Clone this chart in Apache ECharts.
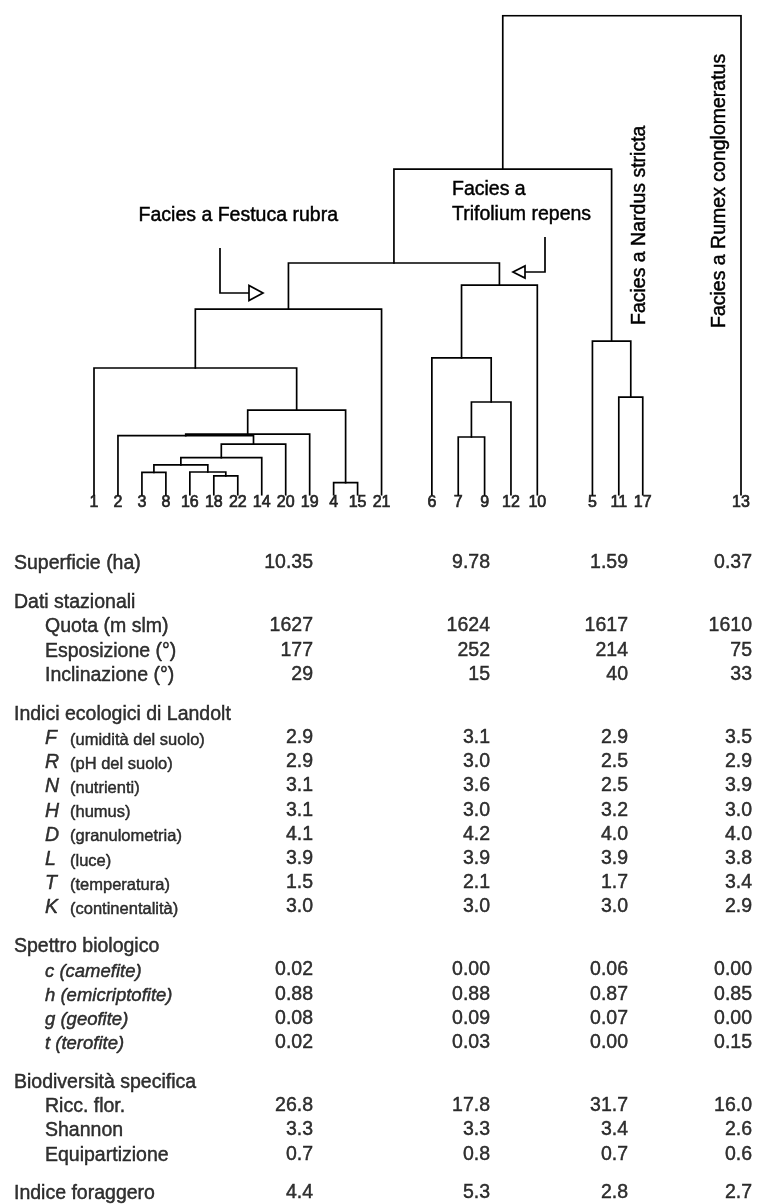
<!DOCTYPE html>
<html>
<head>
<meta charset="utf-8">
<script src="https://cdn.jsdelivr.net/npm/echarts@6/dist/echarts.min.js"></script>
<style>
html,body{margin:0;padding:0;background:#fff;}
#chart{width:759px;height:1204px;}
</style>
</head>
<body>
<div id="chart"></div>
<script>
// ---------------- DATA ----------------
// Dendrogram: leaf order, leaf slot positions along the axis, and fusion steps [a, b, height]
const leaves   = ['1','2','3','8','16','18','22','14','20','19','4','15','21','6','7','9','12','10','5','11','17','13'];
const leafSlot = [0,1,2,3,4,5,6,7,8,9,10,11,12,14.1,15.2,16.3,17.4,18.5,20.8,21.9,22.9,27];
const merges = [
  ['18','22',4.0],   // m0
  ['16','m0',4.8],   // m1
  ['3','8',4.7],     // m2
  ['m2','m1',6.3],   // m3
  ['m3','14',7.8],   // m4
  ['m4','20',10.6],  // m5
  ['2','m5',12.4],   // m6
  ['m6','19',12.7],  // m7
  ['4','15',2.6],    // m8
  ['m7','m8',17.7],  // m9
  ['1','m9',26.5],   // m10
  ['m10','21',38.8], // m11  Festuca rubra
  ['7','9',12.1],    // m12
  ['m12','12',19.4], // m13
  ['6','m13',28.6],  // m14
  ['m14','10',43.8], // m15  Trifolium repens
  ['m11','m15',48.4],// m16
  ['11','17',20.4],  // m17
  ['5','m17',32.1],  // m18  Nardus stricta
  ['m16','m18',68.0],// m19
  ['m19','13',100]   // m20
];

// Table
const superficie   = [10.35, 9.78, 1.59, 0.37];
const stazLabels   = ['Quota (m slm)', 'Esposizione (°)', 'Inclinazione (°)'];
const quota        = [1627, 1624, 1617, 1610];
const esposizione  = [177, 252, 214, 75];
const inclinazione = [29, 15, 40, 33];
const landoltCodes = ['F','R','N','H','D','L','T','K'];
const landoltNames = ['(umidità del suolo)','(pH del suolo)','(nutrienti)','(humus)','(granulometria)','(luce)','(temperatura)','(continentalità)'];
const landoltF = [2.9, 3.1, 2.9, 3.5];
const landoltR = [2.9, 3.0, 2.5, 2.9];
const landoltN = [3.1, 3.6, 2.5, 3.9];
const landoltH = [3.1, 3.0, 3.2, 3.0];
const landoltD = [4.1, 4.2, 4.0, 4.0];
const landoltL = [3.9, 3.9, 3.9, 3.8];
const landoltT = [1.5, 2.1, 1.7, 3.4];
const landoltK = [3.0, 3.0, 3.0, 2.9];
const spettroLabels = ['c (camefite)','h (emicriptofite)','g (geofite)','t (terofite)'];
const spettroC = [0.02, 0.00, 0.06, 0.00];
const spettroH = [0.88, 0.88, 0.87, 0.85];
const spettroG = [0.08, 0.09, 0.07, 0.00];
const spettroT = [0.02, 0.03, 0.00, 0.15];
const biodivLabels = ['Ricc. flor.','Shannon','Equipartizione'];
const riccFlor   = [26.8, 17.8, 31.7, 16.0];
const shannon    = [3.3, 3.3, 3.4, 2.6];
const equipart   = [0.7, 0.8, 0.7, 0.6];
const foraggero  = [4.4, 5.3, 2.8, 2.7];

// ---------------- LAYOUT ----------------
const FONT = "'Liberation Sans', Arial, Helvetica, sans-serif";
const FS = 19.5;
const W = 759, H = 1204;
const dendro = {left: 94, right: W - 741, top: 15.7, bottom: H - 495};
const table  = {top: 563, bottom: H - 1193};
const TABLE_ROWS_MAX = 26;
const HEAD_X = 14, ITEM_X = 45;
const COL_X = [313, 490, 628, 752];
const GROUP_GAP = 0.6;
const INK = {textBorderColor: '#000', textBorderWidth: 0.45};

// dendrogram links
const nodes = {};
leaves.forEach((l, i) => { nodes[l] = {x: leafSlot[i], h: 0}; });
const linkData = [];
merges.forEach((m, i) => {
  const a = nodes[m[0]], b = nodes[m[1]], h = m[2];
  linkData.push({coords: [[a.x, a.h], [a.x, h], [b.x, h], [b.x, b.h]]});
  nodes['m' + i] = {x: (a.x + b.x) / 2, h: h};
});

// table rows
const rows = [];
let pos = 0;
function addRow(kind, label, values, dec, gap) {
  if (gap && rows.length) pos += GROUP_GAP;
  rows.push({kind, label, values, dec, pos});
  pos += 1;
}
addRow('head', 'Superficie (ha)', superficie, 2, true);
addRow('head', 'Dati stazionali', null, 0, true);
[quota, esposizione, inclinazione].forEach((v, i) => addRow('item', stazLabels[i], v, 0, false));
addRow('head', 'Indici ecologici di Landolt', null, 1, true);
[landoltF, landoltR, landoltN, landoltH, landoltD, landoltL, landoltT, landoltK].forEach((v, i) =>
  addRow('code', [landoltCodes[i], landoltNames[i]], v, 1, false));
addRow('head', 'Spettro biologico', null, 2, true);
[spettroC, spettroH, spettroG, spettroT].forEach((v, i) => addRow('ital', spettroLabels[i], v, 2, false));
addRow('head', 'Biodiversità specifica', null, 1, true);
[riccFlor, shannon, equipart].forEach((v, i) => addRow('item', biodivLabels[i], v, 1, false));
addRow('head', 'Indice foraggero', foraggero, 1, true);

const labelData = rows.map(r => {
  let fmt;
  if (r.kind === 'code') fmt = '{it|' + r.label[0] + '}{sm|' + r.label[1] + '}';
  else if (r.kind === 'ital') fmt = '{ital|' + r.label + '}';
  else fmt = '{n|' + r.label + '}';
  return {value: [r.kind === 'head' ? HEAD_X : ITEM_X, r.pos], label: {formatter: fmt}};
});
const valueData = [];
rows.forEach(r => {
  if (!r.values) return;
  r.values.forEach((v, c) => valueData.push({value: [COL_X[c], r.pos], txt: v.toFixed(r.dec)}));
});

const richStyles = {
  n:    Object.assign({fontFamily: FONT, fontSize: FS, color: '#000', verticalAlign: 'bottom', lineHeight: 22}, INK),
  it:   Object.assign({fontFamily: FONT, fontSize: FS, fontStyle: 'italic', color: '#000', width: 25, verticalAlign: 'bottom', lineHeight: 22}, INK),
  sm:   Object.assign({fontFamily: FONT, fontSize: 16.5, color: '#000', verticalAlign: 'bottom', lineHeight: 22}, INK),
  ital: Object.assign({fontFamily: FONT, fontSize: 18.5, fontStyle: 'italic', color: '#000', verticalAlign: 'bottom', lineHeight: 22}, INK)
};

const chart = echarts.init(document.getElementById('chart'), null, {renderer: 'canvas', width: W, height: H});

function gtext(x, y, text, align, rot) {
  const el = {type: 'text', x: x, y: y,
    style: {text: text, font: FS + 'px ' + FONT, fill: '#000', stroke: '#000', lineWidth: 0.45,
            align: align, textAlign: align, verticalAlign: 'middle', textVerticalAlign: 'middle'}};
  if (rot) el.rotation = rot;
  return el;
}

const option = {
  backgroundColor: '#fff',
  animation: false,
  grid: [
    {left: dendro.left, right: dendro.right, top: dendro.top, bottom: dendro.bottom, containLabel: false},
    {left: 0, right: 0, top: table.top, bottom: table.bottom, containLabel: false}
  ],
  xAxis: [
    {gridIndex: 0, type: 'value', min: 0, max: leafSlot[leafSlot.length - 1], show: false},
    {gridIndex: 1, type: 'value', min: 0, max: W, show: false}
  ],
  yAxis: [
    {gridIndex: 0, type: 'value', min: 0, max: 100, show: false},
    {gridIndex: 1, type: 'value', min: 0, max: TABLE_ROWS_MAX, inverse: true, show: false}
  ],
  series: [
    {
      type: 'lines', coordinateSystem: 'cartesian2d', xAxisIndex: 0, yAxisIndex: 0,
      polyline: true, silent: true, data: linkData,
      lineStyle: {color: '#000', width: 1.7, opacity: 1, cap: 'square', join: 'miter'}
    },
    {
      type: 'scatter', xAxisIndex: 0, yAxisIndex: 0, symbolSize: 0, silent: true,
      data: leaves.map((l, i) => [leafSlot[i], 0, l]),
      label: Object.assign({show: true, position: 'bottom', distance: 0, formatter: p => p.data[2],
              fontFamily: FONT, fontSize: 16, color: '#000'}, {textBorderColor: '#000', textBorderWidth: 0.7})
    },
    {
      type: 'scatter', xAxisIndex: 1, yAxisIndex: 1, symbolSize: 0, silent: true,
      data: labelData,
      label: {show: true, position: 'right', distance: 0, align: 'left', verticalAlign: 'middle', rich: richStyles}
    },
    {
      type: 'scatter', xAxisIndex: 1, yAxisIndex: 1, symbolSize: 0, silent: true,
      data: valueData,
      label: Object.assign({show: true, position: 'left', distance: 0, formatter: p => p.data.txt,
              fontFamily: FONT, fontSize: FS, color: '#000', lineHeight: 22}, INK)
    }
  ],
  graphic: [
    gtext(338, 216, 'Facies a Festuca rubra', 'right'),
    gtext(452, 190, 'Facies a', 'left'),
    gtext(452, 215, 'Trifolium repens', 'left'),
    gtext(640, 325, 'Facies a Nardus stricta', 'left', Math.PI / 2),
    gtext(720, 328, 'Facies a Rumex conglomeratus', 'left', Math.PI / 2),
    {type: 'polyline', shape: {points: [[220, 248], [220, 293], [249, 293]]}, style: {stroke: '#000', lineWidth: 1.7, fill: null}},
    {type: 'polygon', shape: {points: [[249, 285.5], [249, 300.5], [263, 293]]}, style: {fill: '#fff', stroke: '#000', lineWidth: 1.7}},
    {type: 'polyline', shape: {points: [[545, 237], [545, 272], [525, 272]]}, style: {stroke: '#000', lineWidth: 1.7, fill: null}},
    {type: 'polygon', shape: {points: [[525, 266], [525, 278], [513, 272]]}, style: {fill: '#fff', stroke: '#000', lineWidth: 1.7}}
  ]
};
chart.setOption(option);
</script>
</body>
</html>
